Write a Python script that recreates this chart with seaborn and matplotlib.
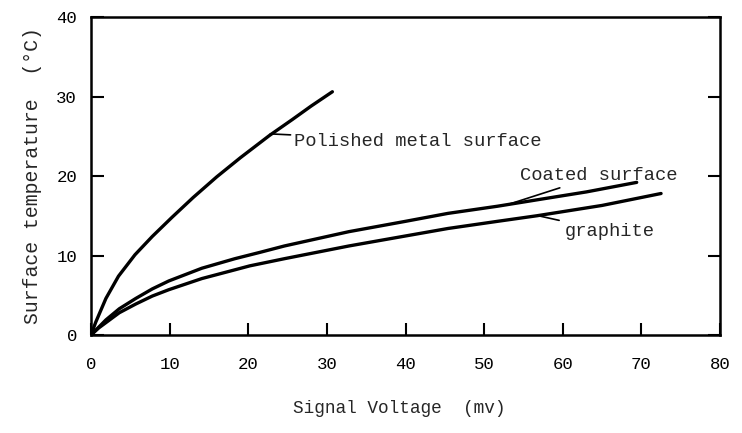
import matplotlib
matplotlib.use("Agg")
import matplotlib.pyplot as plt
import seaborn as sns
import pandas as pd

# Data
polished_x = [0, 0.6, 1.9, 3.5, 5.6, 7.8, 10.3, 13.0, 16.0, 19.0, 22.7, 25.6, 28.0, 30.7]
polished_y = [0, 1.6, 4.6, 7.4, 10.1, 12.4, 14.8, 17.3, 19.9, 22.3, 25.1, 27.1, 28.8, 30.6]

coated_x = [0, 0.6, 1.9, 3.6, 5.7, 7.8, 9.9, 14.1, 18.3, 21.5, 24.6, 32.8, 40.0, 45.4, 51.7, 56.7, 63.0, 69.4]
coated_y = [0, 0.6, 1.9, 3.3, 4.6, 5.8, 6.8, 8.4, 9.6, 10.4, 11.2, 13.0, 14.3, 15.3, 16.2, 17.0, 18.0, 19.2]

graphite_x = [0, 1.0, 3.6, 5.7, 7.8, 9.9, 14.1, 18.3, 20.2, 24.6, 32.8, 36.8, 45.4, 51.7, 56.7, 65.0, 72.5]
graphite_y = [0, 0.9, 2.8, 3.9, 4.9, 5.7, 7.1, 8.2, 8.7, 9.6, 11.2, 11.9, 13.4, 14.3, 15.0, 16.3, 17.8]

x_ticks = [0, 10, 20, 30, 40, 50, 60, 70, 80]
y_ticks = [0, 10, 20, 30, 40]

labels = ["Polished metal surface", "Coated surface", "graphite"]

sns.set_style("ticks")
plt.rcParams['font.family'] = ['Liberation Mono', 'DejaVu Sans Mono']

fig = plt.figure(figsize=(7.42, 4.33), dpi=100)
ax = fig.add_axes([0.1226, 0.2263, 0.8478, 0.7344])

df = pd.concat([
    pd.DataFrame({"x": polished_x, "y": polished_y, "s": labels[0]}),
    pd.DataFrame({"x": coated_x, "y": coated_y, "s": labels[1]}),
    pd.DataFrame({"x": graphite_x, "y": graphite_y, "s": labels[2]}),
])
sns.lineplot(data=df, x="x", y="y", hue="s", sort=False, estimator=None,
             palette=["black"] * 3, linewidth=2.4, legend=False, ax=ax)
for ln in ax.lines:
    ln.set_solid_joinstyle("round")
    ln.set_solid_capstyle("round")

ax.set_xlim(0, 80)
ax.set_ylim(0, 40)
ax.set_xticks(x_ticks)
ax.set_yticks(y_ticks)
ax.tick_params(axis="both", direction="in", length=9, width=1.5,
               labelsize=12.5, colors="black")
ax.tick_params(axis="x", pad=16)
ax.tick_params(axis="y", pad=10, right=True)
for sp in ax.spines.values():
    sp.set_visible(True)
    sp.set_linewidth(1.8)
    sp.set_color("black")

ax.set_xlabel("Signal Voltage  (mv)", fontsize=12.8)
ax.set_ylabel("Surface temperature  (°C)", fontsize=14.3)
ax.xaxis.set_label_coords(0.49, -0.205)
ax.yaxis.set_label_coords(-0.078, 0.5)

# annotations with short leader lines
ax.annotate(labels[0], xy=(22.8, 25.3), xytext=(25.8, 24.4),
            fontsize=13.5, va="center", ha="left",
            arrowprops=dict(arrowstyle="-", color="black", lw=1.2,
                            shrinkA=0, shrinkB=0))
ax.annotate(labels[1], xy=(53.3, 16.5), xytext=(54.6, 20.1),
            fontsize=13.5, va="center", ha="left",
            arrowprops=dict(arrowstyle="-", color="black", lw=1.2,
                            shrinkA=2, shrinkB=0))
ax.annotate(labels[2], xy=(56.9, 15.0), xytext=(60.3, 13.0),
            fontsize=13.5, va="center", ha="left",
            arrowprops=dict(arrowstyle="-", color="black", lw=1.2,
                            shrinkA=2, shrinkB=0))

fig.savefig("out.png", dpi=100)
